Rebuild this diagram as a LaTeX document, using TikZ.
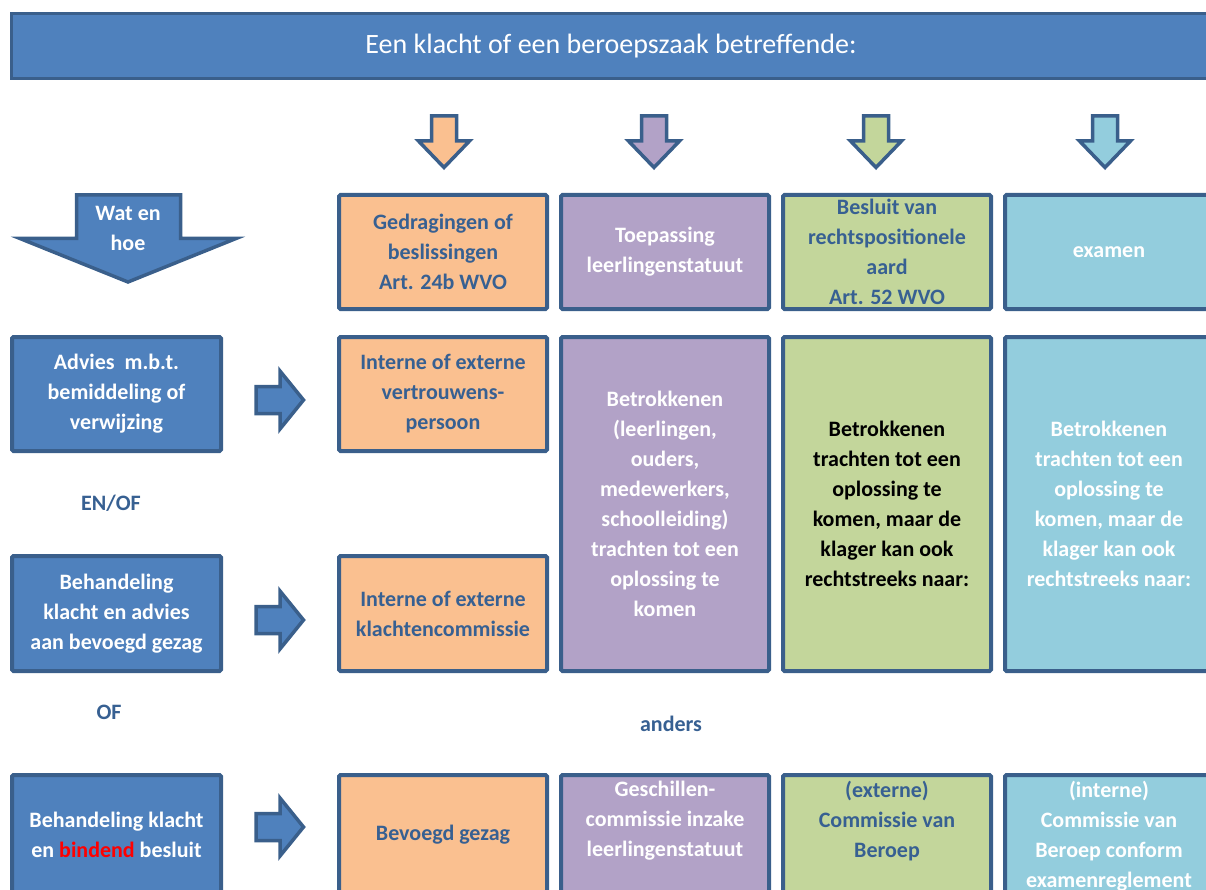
\documentclass[tikz,border=0pt]{standalone}
\usepackage{fontspec}
\setmainfont{Carlito}
\definecolor{bfill}{HTML}{4F81BD}
\definecolor{bord}{HTML}{3A5F8B}
\definecolor{ofill}{HTML}{FAC090}
\definecolor{pfill}{HTML}{B2A2C7}
\definecolor{gfill}{HTML}{C3D69B}
\definecolor{lfill}{HTML}{93CDDD}
\definecolor{tdark}{HTML}{376092}
\definecolor{tred}{HTML}{FF0000}
\newcommand{\myVArrow}[2]{%
  \draw[arrowshape, fill=#2] ({#1-12.5},116) -- ({#1+12.5},116) -- ({#1+12.5},141) -- ({#1+25.5},141) -- (#1,167.5) -- ({#1-25.5},141) -- ({#1-12.5},141) -- cycle;}
\newcommand{\myHArrow}[1]{%
  \draw[arrowshape, fill=bfill] (256,{#1-13.5}) -- (280,{#1-13.5}) -- (280,{#1-29}) -- (303.5,#1) -- (280,{#1+29}) -- (280,{#1+13.5}) -- (256,{#1+13.5}) -- cycle;}
\begin{document}
\begin{tikzpicture}[x=1pt,y=-1pt,
  boxshape/.style={draw=bord, line width=4pt, rounded corners=1.5pt, align=center, inner sep=0pt,
    font=\bfseries\fontsize{22}{30}\selectfont},
  colbox/.style={boxshape, minimum width=208pt},
  leftbox/.style={boxshape, minimum width=209pt, fill=bfill, text=white},
  arrowshape/.style={draw=bord, line width=3.5pt, line join=miter},
  lbl/.style={font=\bfseries\fontsize{22}{30}\selectfont, align=center, inner sep=0pt},
  ]
\useasboundingbox (0,0) rectangle (1206,890);
\clip (0,0) rectangle (1206,890);

% title bar
\node[draw=bord, line width=3pt, fill=bfill, minimum width=1230pt, minimum height=65pt,
  inner sep=0pt] (title) at (626.5,46) {};
\node[text=white, font=\fontsize{28}{34}\selectfont, inner sep=0pt] (titletext) at (611,46)
  {Een klacht of een beroepszaak betreffende:};

% down arrows
\myVArrow{444}{ofill}
\myVArrow{654}{pfill}
\myVArrow{876}{gfill}
\myVArrow{1105}{lfill}

% Wat en hoe arrow
\draw[arrowshape, fill=bfill] (76.5,195) -- (180.5,195) -- (180.5,238.5) -- (236,238.5) -- (128,282) -- (20,238.5) -- (76.5,238.5) -- cycle;
\node[lbl, text=white] (wat) at (128,228) {Wat en\\hoe};

% row 1
\node[colbox, fill=ofill, text=tdark, minimum height=114pt] (r1a) at (443,252) {Gedragingen of\\beslissingen\\Art. 24b WVO};
\node[colbox, fill=pfill, text=white, minimum height=114pt] (r1b) at (665,252) {Toepassing\\leerlingenstatuut};
\node[colbox, fill=gfill, text=tdark, minimum height=114pt] (r1c) at (887,252) {Besluit van\\rechtspositionele\\aard\\Art. 52 WVO};
\node[colbox, fill=lfill, text=white, minimum height=114pt] (r1d) at (1109,252) {examen};

% row 2
\node[leftbox, minimum height=114pt] (l1) at (116.5,394) {Advies\ \ m.b.t.\\bemiddeling of\\verwijzing};
\node[leftbox, minimum height=115pt] (l2) at (116.5,613.5) {Behandeling\\klacht en advies\\aan bevoegd gezag};
\node[colbox, fill=ofill, text=tdark, minimum height=114pt] (r2a) at (443,394) {Interne of externe\\vertrouwens-\\persoon};
\node[colbox, fill=ofill, text=tdark, minimum height=115pt] (r2a2) at (443,613.5) {Interne of externe\\klachtencommissie};
\node[colbox, fill=pfill, text=white, minimum height=334pt] (r2b) at (665,504) {Betrokkenen\\(leerlingen,\\ouders,\\medewerkers,\\schoolleiding)\\trachten tot een\\oplossing te\\komen};
\node[colbox, fill=gfill, text=black, minimum height=334pt] (r2c) at (887,504) {Betrokkenen\\trachten tot een\\oplossing te\\komen, maar de\\klager kan ook\\rechtstreeks naar:};
\node[colbox, fill=lfill, text=white, minimum height=334pt] (r2d) at (1109,504) {Betrokkenen\\trachten tot een\\oplossing te\\komen, maar de\\klager kan ook\\rechtstreeks naar:};

\myHArrow{400}
\myHArrow{620}
\myHArrow{827}

% labels
\node[lbl, text=tdark] (enof) at (111,503) {EN/OF};
\node[lbl, text=tdark] (of) at (109,712) {OF};
\node[lbl, text=tdark] (anders) at (671,724) {anders};

% row 3
\node[leftbox, minimum height=120pt] (l3) at (116.5,835) {Behandeling klacht\\en \textcolor{tred}{bindend} besluit};
\node[colbox, fill=ofill, text=tdark, minimum height=120pt] (r3a) at (443,835) {Bevoegd gezag};
\node[colbox, fill=pfill, minimum height=120pt] (r3b) at (665,835) {};
\node[colbox, fill=gfill, minimum height=120pt] (r3c) at (887,835) {};
\node[colbox, fill=lfill, minimum height=120pt] (r3d) at (1109,835) {};
\node[lbl, text=white] (t3b) at (665,821) {Geschillen-\\commissie inzake\\leerlingenstatuut};
\node[lbl, text=tdark] (t3c) at (887,821) {(externe)\\Commissie van\\Beroep};
\node[lbl, text=white] (t3d) at (1109,836) {(interne)\\Commissie van\\Beroep conform\\examenreglement};
\end{tikzpicture}
\end{document}
